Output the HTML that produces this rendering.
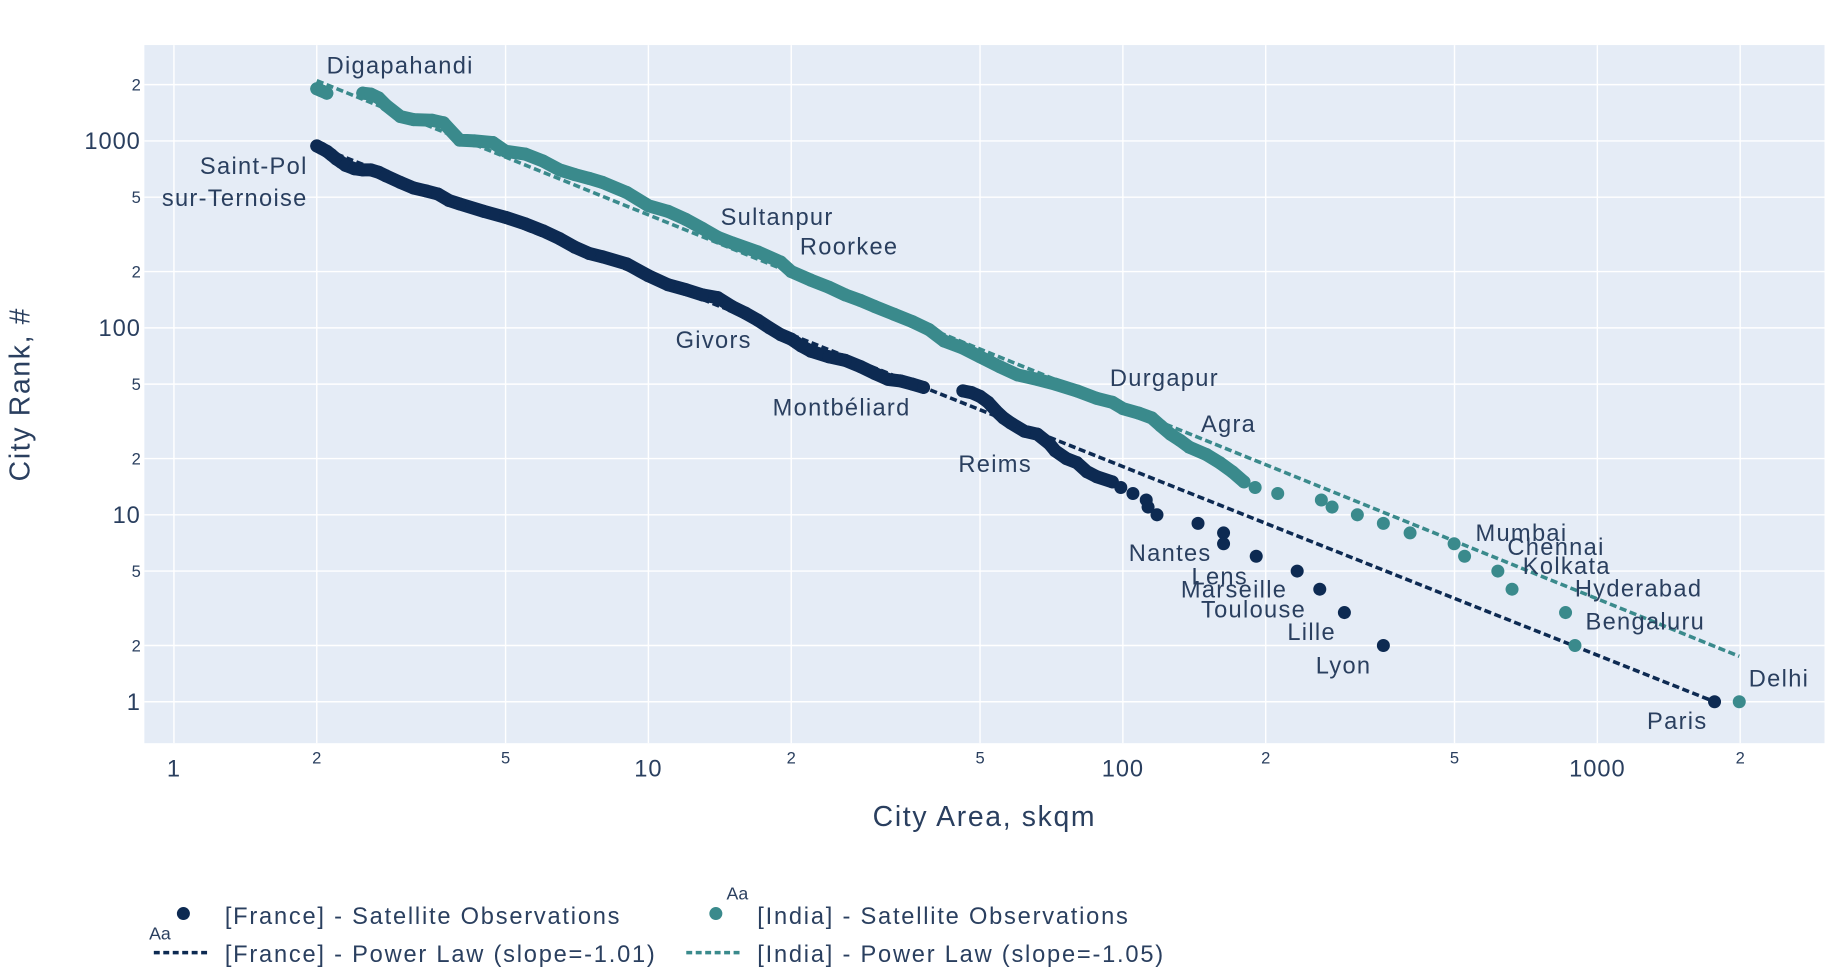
<!DOCTYPE html>
<html><head><meta charset="utf-8"><style>
html,body{margin:0;padding:0;background:#fff;}
svg{display:block;font-family:"Liberation Sans",sans-serif;}
</style></head><body>
<svg id="chart" width="1834" height="974" viewBox="0 0 1550 823" xmlns="http://www.w3.org/2000/svg">
<rect x="122" y="38" width="1420" height="590" fill="#e5ecf6"/>
<g id="grid"></g>
<g id="axes"></g>
<g id="series"></g>
<g id="labels" fill="#2a3f5f" font-size="20" letter-spacing="1.1"></g>
<text x="832" y="698" text-anchor="middle" font-size="24" letter-spacing="1.4" fill="#2a3f5f">City Area, skqm</text>
<text transform="translate(25,333) rotate(-90)" text-anchor="middle" font-size="24" letter-spacing="1.4" fill="#2a3f5f">City Rank, #</text>
<g fill="#2a3f5f" font-size="20" letter-spacing="1.5">
  <text x="126" y="794" font-size="15" letter-spacing="0">Aa</text>
  <text x="614" y="760" font-size="15" letter-spacing="0">Aa</text>
  <circle cx="155" cy="772" r="5.5" fill="#0d2a52"/>
  <text x="190" y="781">[France] - Satellite Observations</text>
  <line x1="130" y1="805" x2="178" y2="805" stroke="#0d2a52" stroke-width="3" stroke-dasharray="5,3"/>
  <text x="190" y="813">[France] - Power Law (slope=-1.01)</text>
  <circle cx="605" cy="772" r="5.5" fill="#3a8a8c"/>
  <text x="640" y="781">[India] - Satellite Observations</text>
  <line x1="580" y1="805" x2="628" y2="805" stroke="#3a8a8c" stroke-width="3" stroke-dasharray="5,3"/>
  <text x="640" y="813">[India] - Power Law (slope=-1.05)</text>
</g>
</svg>
<script>
const xTicks=[1,2,5,10,20,50,100,200,500,1000,2000];
const xTickLabels=["1","2","5","10","2","5","100","2","5","1000","2"];
const yTicks=[1,2,5,10,20,50,100,200,500,1000,2000];
const yTickLabels=["1","2","5","10","2","5","100","2","5","1000","2"];
const franceArea=[2.0,2.05,2.1,2.15,2.2,2.25,2.3,2.4,2.5,2.6,2.7,2.8,3.0,3.2,3.4,3.6,3.8,4.0,4.5,5,5.5,6,6.5,7,7.5,8,9,10,11,12,13,14,15,16,17,18,19,20,21,22,24,26,28,30,32,34,36,38,46,48,50,52,54,56,58,62,66,70,72,76,80,84,88,95,99,105,112,113,118,144,163,163,191,233,260,293,354,1766];
const franceRank=[940,910,880,840,800,770,740,710,700,700,680,650,600,560,540,520,480,460,420,390,360,330,300,270,250,240,220,190,170,160,150,145,130,120,110,100,92,87,80,75,70,67,62,57,53,52,50,48,46,45,43,40,36,33,31,28,27,24,22,20,19,17,16,15,14,13,12,11,10,9,8,7,6,5,4,3,2,1];
const indiaArea=[2.0,2.05,2.1,2.5,2.6,2.7,2.8,3.0,3.2,3.5,3.7,4.0,4.3,4.7,5,5.5,6,6.5,7,7.5,8,9,10,11,12,13,14,15,17,19,20,22,24,26,28,30,33,36,39,42,46,50,55,60,66,72,80,88,95,100,108,115,120,126,132,138,150,160,170,180,190,212,262,276,312,354,403,499,525,617,661,857,897,1991];
const indiaRank=[1900,1850,1800,1800,1780,1700,1550,1350,1300,1290,1250,1010,1000,980,880,850,780,700,660,630,600,530,450,420,380,340,305,285,255,225,200,180,165,150,140,130,118,108,98,85,78,70,62,56,53,50,46,42,40,37,35,33,30,27,25,23,21,19,17,15,14,13,12,11,10,9,8,7,6,5,4,3,2,1];
const franceFitArea=[2,1766];
const franceFitRank=[938,1];
const indiaFitArea=[2,1991];
const indiaFitRank=[2100,1.75];
const cityNames=["Digapahandi","Saint-Pol","sur-Ternoise","Sultanpur","Roorkee","Givors","Montbéliard","Reims","Durgapur","Agra","Nantes","Lens","Marseille","Toulouse","Lille","Lyon","Paris","Delhi","Mumbai","Chennai","Kolkata","Hyderabad","Bengaluru"];
const cityX=[276,260,260,609,676,571,653,810,938,1015,954,1007,998,1015,1088,1112,1392,1478,1247,1274,1287,1331,1340];
const cityY=[62,147,174,190,215,294,351,399,326,365,474,494,505,522,541,569,616,580,457,469,485,504,532];
const cityAnchor=["start","end","end","start","start","start","start","start","start","start","start","start","start","start","start","start","start","start","start","start","start","start","start"];

const NS="http://www.w3.org/2000/svg";
function xs(v){return 147+401*Math.log10(v);}
function ys(v){return 593-158*Math.log10(v);}
function mk(tag,attrs,parent){const e=document.createElementNS(NS,tag);for(const k in attrs)e.setAttribute(k,attrs[k]);parent.appendChild(e);return e;}
const grid=document.getElementById('grid'),axes=document.getElementById('axes'),series=document.getElementById('series'),labels=document.getElementById('labels');
xTicks.forEach((t,i)=>{
  const l=mk('line',{x1:xs(t),x2:xs(t),y1:38,y2:628,stroke:'#fff','stroke-width':1.2},grid);
  
  
  const major=[1,10,100,1000].includes(t);
  const tx=mk('text',{x:xs(t),y:major?656:645,'text-anchor':'middle','font-size':major?20:14,'letter-spacing':major?0.8:0,fill:'#2a3f5f'},axes);
  tx.textContent=xTickLabels[i];
  
  
});
yTicks.forEach((t,i)=>{
  const l=mk('line',{x1:122,x2:1542,y1:ys(t),y2:ys(t),stroke:'#fff','stroke-width':1.2},grid);
  
  
  const major=[1,10,100,1000].includes(t);
  const tx=mk('text',{x:119,y:ys(t)+(major?7:5),'text-anchor':'end','font-size':major?20:14,'letter-spacing':major?0.8:0,fill:'#2a3f5f'},axes);
  tx.textContent=yTickLabels[i];
  
  
});
function band(a,r,color,name){
  // dense region (many small cities): consecutive observations overlap
  let d='';
  for(let i=1;i<a.length;i++){
    const x0=xs(a[i-1]),y0=ys(r[i-1]),x1=xs(a[i]),y1=ys(r[i]);
    if(Math.hypot(x1-x0,y1-y0)<30 && r[i]>14) d+='M'+x0+' '+y0+'L'+x1+' '+y1;
  }
  const p=mk('path',{d:d,stroke:color,'stroke-width':11,'stroke-linecap':'round','stroke-linejoin':'round',fill:'none'},series);
  
  
}
function pts(a,r,color,name){
  a.forEach((v,i)=>{
    const c=mk('circle',{cx:xs(v),cy:ys(r[i]),r:5.5,fill:color},series);
    
    
  });
}
function fit(a,r,color,name){
  const l=mk('line',{x1:xs(a[0]),y1:ys(r[0]),x2:xs(a[1]),y2:ys(r[1]),stroke:color,'stroke-width':3,'stroke-dasharray':'6,3'},series);
  
  
}
fit(indiaFitArea,indiaFitRank,'#3a8a8c','india-power-law-line');
fit(franceFitArea,franceFitRank,'#0d2a52','france-power-law-line');
band(indiaArea,indiaRank,'#3a8a8c','india-observation-band');
pts(indiaArea,indiaRank,'#3a8a8c','india-point');
band(franceArea,franceRank,'#0d2a52','france-observation-band');
pts(franceArea,franceRank,'#0d2a52','france-point');
cityNames.forEach((n,i)=>{
  const t=mk('text',{x:cityX[i],y:cityY[i],'text-anchor':cityAnchor[i]},labels);
  t.textContent=n;
  
  
});
</script>
</body></html>
